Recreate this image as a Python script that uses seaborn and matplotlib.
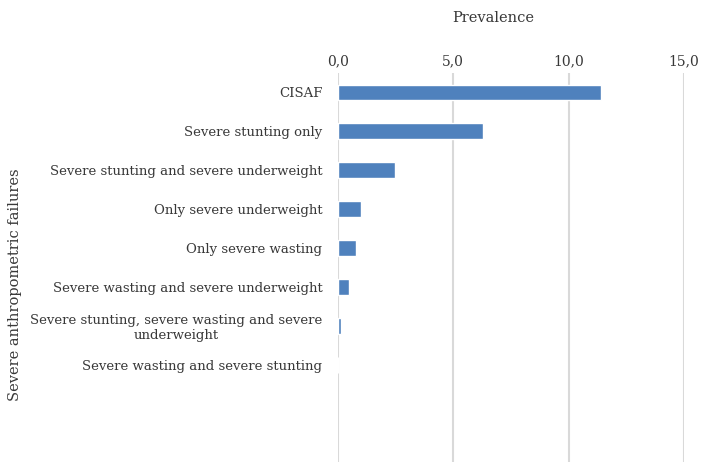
import numpy as np
import pandas as pd
import matplotlib
matplotlib.use("Agg")
import matplotlib.pyplot as plt
from matplotlib.ticker import FuncFormatter
import seaborn as sns

categories = [
    "CISAF",
    "Severe stunting only",
    "Severe stunting and severe underweight",
    "Only severe underweight",
    "Only severe wasting",
    "Severe wasting and severe underweight",
    "Severe stunting, severe wasting and severe\nunderweight",
    "Severe wasting and severe stunting",
]
prevalence = [11.4, 6.3, 2.5, 1.0, 0.8, 0.5, 0.15, 0.0]
x_ticks = [0, 5, 10, 15]

df = pd.DataFrame({"category": categories, "prevalence": prevalence})

sns.set_style("white")
plt.rcParams["font.family"] = ["DejaVu Serif"]
text_color = "#383838"

fig = plt.figure(figsize=(7.08, 4.73), dpi=100)
ax = fig.add_axes([0.477, 0.023, 0.489, 0.823])

sns.barplot(data=df, x="prevalence", y="category", color="#4f81bd",
            width=0.4, saturation=1, ax=ax)

ax.set_xlim(0, 15)
ax.set_ylim(9.5, -0.5)
ax.set_xticks(x_ticks)
ax.xaxis.set_major_formatter(FuncFormatter(lambda v, p: f"{v:.1f}".replace(".", ",")))
ax.xaxis.tick_top()
ax.xaxis.set_label_position("top")
ax.grid(axis="x", color="#d9d9d9", linewidth=1.5)
ax.set_axisbelow(True)
for s in ax.spines.values():
    s.set_visible(False)

ax.tick_params(axis="x", length=0, pad=3.5, labelsize=10, labelcolor=text_color)
ax.tick_params(axis="y", length=0, pad=11, labelsize=9.5, labelcolor=text_color)
for lbl in ax.get_yticklabels():
    lbl.set_multialignment("center")

ax.set_xlabel("Prevalence", fontsize=10.5, color=text_color)
ax.xaxis.set_label_coords(0.45, 1.131)
ax.set_ylabel("Severe anthropometric failures", fontsize=10.5, color=text_color)
ax.yaxis.set_label_coords(-0.913, 0.455)

fig.savefig("out.png", dpi=100)
